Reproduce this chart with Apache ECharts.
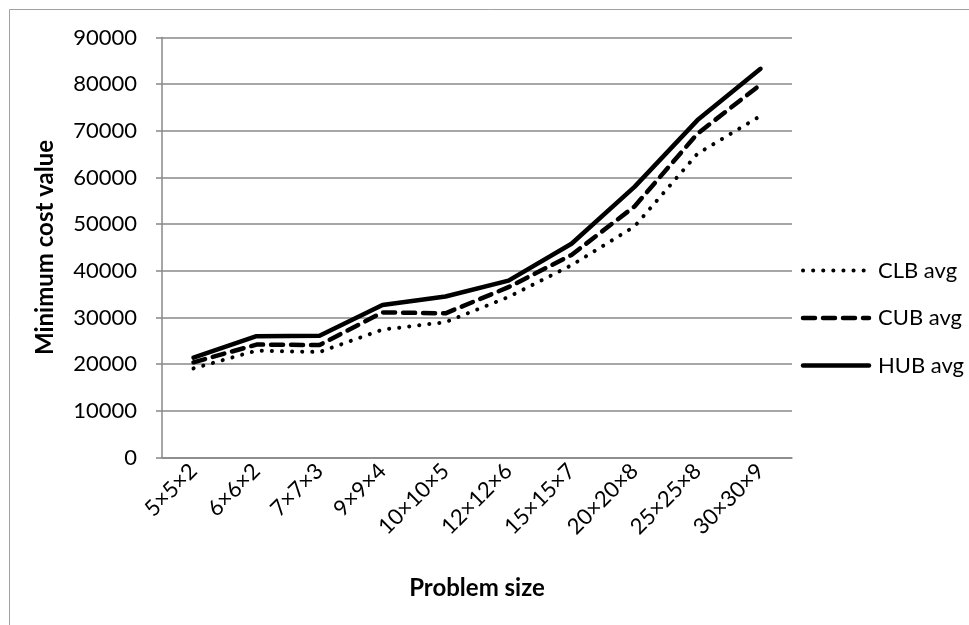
<!DOCTYPE html>
<html>
<head>
<meta charset="utf-8">
<script src="https://cdn.jsdelivr.net/npm/echarts@6/dist/echarts.min.js"></script>
<style>
  html, body { margin: 0; padding: 0; background: #fff; }
  #chart { width: 969px; height: 625px; }
</style>
</head>
<body>
<div id="chart"></div>
<script>
// Problem sizes along the category axis
const categories = ['5×5×2', '6×6×2', '7×7×3', '9×9×4', '10×10×5', '12×12×6', '15×15×7', '20×20×8', '25×25×8', '30×30×9'];

// Average minimum cost per bound type
const clbAvg = [19100, 22900, 22600, 27400, 29000, 34400, 41200, 49500, 65100, 73200];
const cubAvg = [20400, 24200, 24100, 31100, 30900, 36500, 43400, 53800, 69400, 79900];
const hubAvg = [21400, 26000, 26100, 32700, 34500, 37900, 45800, 58000, 72300, 83300];

// Y-axis range
const yMin = 0, yMax = 90000, yStep = 10000;

const FONT = 'Lato, "Open Sans", sans-serif';
const GRID_COLOR = '#888888';

// Line styles shared by each series and its legend sample
const styles = {
  'CLB avg': { width: 4, type: [0.1, 10], cap: 'round' },
  'CUB avg': { width: 4.5, type: [12, 8], cap: 'round' },
  'HUB avg': { width: 4.5, type: 'solid', cap: 'round' }
};
const seriesData = { 'CLB avg': clbAvg, 'CUB avg': cubAvg, 'HUB avg': hubAvg };
const names = ['CLB avg', 'CUB avg', 'HUB avg'];

const chart = echarts.init(document.getElementById('chart'), null, { renderer: 'canvas' });

const series = names.map(function (name) {
  const s = styles[name];
  return {
    name: name,
    type: 'line',
    data: seriesData[name],
    symbol: 'none',
    animation: false,
    lineStyle: { color: '#000', width: s.width, type: s.type, cap: s.cap, join: 'round' },
    emphasis: { disabled: true }
  };
});

// Legend drawn as line samples followed by labels, stacked on the right
const legendGraphics = [];
const legendX = 803, legendLen = 66, legendY0 = 270.5, legendStep = 47.5;
names.forEach(function (name, i) {
  const s = styles[name];
  const y = legendY0 + i * legendStep;
  legendGraphics.push({
    type: 'line',
    shape: { x1: legendX, y1: y, x2: legendX + legendLen, y2: y },
    style: { stroke: '#000', lineWidth: s.width, lineDash: s.type === 'solid' ? null : s.type, lineCap: s.cap },
    silent: true
  });
  legendGraphics.push({
    type: 'text',
    x: 878,
    y: y,
    style: { text: name, fontFamily: FONT, fontSize: 22, fill: '#000', textVerticalAlign: 'middle', verticalAlign: 'middle' },
    silent: true
  });
});

chart.setOption({
  backgroundColor: '#fff',
  animation: false,
  textStyle: { fontFamily: FONT },
  graphic: [{
    type: 'rect',
    shape: { x: 9.5, y: 9.5, width: 1000, height: 1000 },
    style: { fill: 'none', stroke: '#a0a0a0', lineWidth: 1 },
    silent: true
  }].concat(legendGraphics),
  grid: { left: 162, right: 177, top: 37.5, bottom: 167.5 },
  xAxis: {
    type: 'category',
    data: categories,
    boundaryGap: true,
    name: 'Problem size',
    nameLocation: 'middle',
    nameGap: 119,
    nameTextStyle: { fontFamily: FONT, fontSize: 24, fontWeight: 'bold', color: '#000' },
    axisLine: { lineStyle: { color: GRID_COLOR, width: 1.5 } },
    axisTick: { show: false },
    axisLabel: { rotate: 45, margin: 10, fontSize: 22, color: '#000', fontFamily: FONT, interval: 0 },
    splitLine: { show: false }
  },
  yAxis: {
    type: 'value',
    min: yMin,
    max: yMax,
    interval: yStep,
    name: 'Minimum cost value',
    nameLocation: 'middle',
    nameGap: 105,
    nameTextStyle: { fontFamily: FONT, fontSize: 24, fontWeight: 'bold', color: '#000' },
    axisLine: { show: true, lineStyle: { color: GRID_COLOR, width: 1.5 } },
    axisTick: { show: true, inside: false, length: 6, lineStyle: { color: GRID_COLOR, width: 1.5 } },
    axisLabel: { margin: 25, fontSize: 22, color: '#000', fontFamily: FONT, formatter: function (v) { return String(v); } },
    splitLine: { show: true, lineStyle: { color: GRID_COLOR, width: 1.5 } }
  },
  series: series
});
</script>
</body>
</html>
